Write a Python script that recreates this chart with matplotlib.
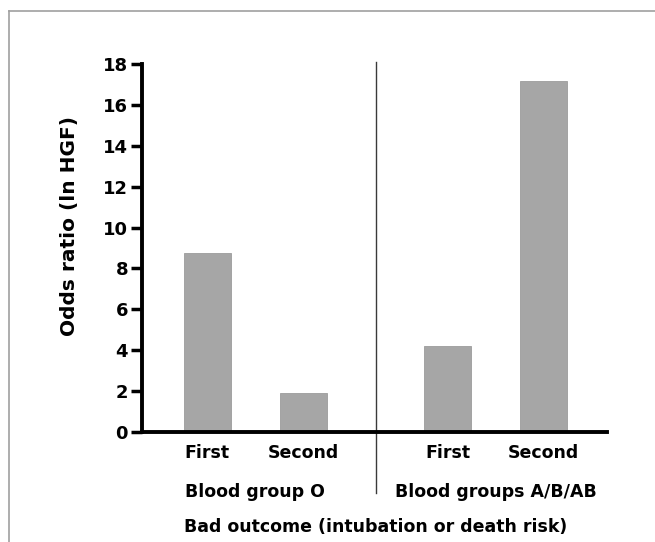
import matplotlib.pyplot as plt
from matplotlib.lines import Line2D

plt.rcParams['font.family'] = ['DejaVu Sans']
plt.rcParams['font.weight'] = 'bold'

# data
groups = ['Blood group O', 'Blood groups A/B/AB']
bar_labels = ['First', 'Second', 'First', 'Second']
odds_ratio = [8.76, 1.9, 4.2, 17.17]
positions = [0, 1, 2.5, 3.5]

fig = plt.figure(figsize=(6.55, 5.42), dpi=100)
ax = fig.add_axes([142 / 655, 1 - 432 / 542, (607 - 142) / 655, 368 / 542])

ax.bar(positions, odds_ratio, width=0.49, color='#a6a6a6', edgecolor='#9c9c9c', linewidth=0.6)

ax.set_ylim(0, 18)
ax.set_xlim(-0.68, 4.16)
ax.set_yticks(range(0, 19, 2))
ax.set_xticks(positions)
ax.set_xticklabels(bar_labels, fontsize=12.5, fontweight='bold')
ax.tick_params(axis='x', length=0, pad=9)
ax.tick_params(axis='y', length=8, width=2.5, labelsize=13, pad=2)
for lbl in ax.get_yticklabels():
    lbl.set_fontweight('bold')

for side in ['top', 'right']:
    ax.spines[side].set_visible(False)
ax.spines['left'].set_linewidth(2.8)
ax.spines['bottom'].set_linewidth(2.8)

ax.set_ylabel('Odds ratio (ln HGF)', fontsize=14.5, fontweight='bold')
ax.yaxis.set_label_coords(-0.135, 0.56)

# separator between groups
ax.axvline(1.755, ymin=-0.166, ymax=1.005, color='#3a3a3a', linewidth=1.0, clip_on=False)

# group labels
ax.text(0.5, -0.163, groups[0], transform=ax.get_xaxis_transform(), ha='center', va='center',
        fontsize=12.5, fontweight='bold')
ax.text(3.0, -0.163, groups[1], transform=ax.get_xaxis_transform(), ha='center', va='center',
        fontsize=12.5, fontweight='bold')

fig.text(376 / 655, 1 - 527 / 542, 'Bad outcome (intubation or death risk)',
         ha='center', va='center', fontsize=12.5, fontweight='bold')

# outer frame lines
fig.add_artist(Line2D([9 / 655, 1], [1 - 10.5 / 542, 1 - 10.5 / 542], color='#a0a0a0', linewidth=1.2))
fig.add_artist(Line2D([9 / 655, 9 / 655], [0, 1 - 10.5 / 542], color='#a0a0a0', linewidth=1.2))

fig.savefig('out.png', dpi=100)
